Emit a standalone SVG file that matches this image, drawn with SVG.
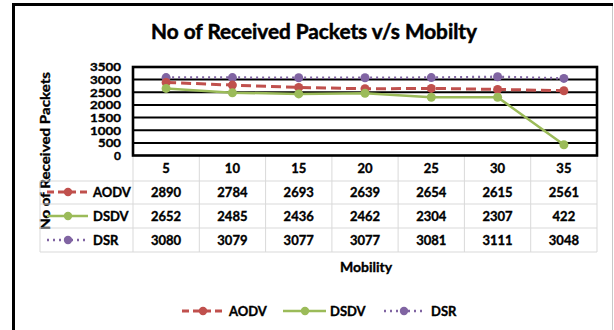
<svg xmlns="http://www.w3.org/2000/svg" width="614" height="330" viewBox="0 0 614 330">
  <style>
    text { font-family: Lato, "Liberation Sans", Arial, sans-serif; font-weight: bold; fill: #000; stroke: #000; stroke-width: 0.35; }
    .title { font-size: 20px; stroke-width: 0.5; }
    .ytick { font-size: 12px; text-anchor: end; }
    .cell { font-size: 13px; text-anchor: middle; }
    .key { font-size: 13px; }
    .axis { font-size: 14px; text-anchor: middle; }
    .grid { stroke: #000; stroke-width: 2; }
    .tbl { stroke: #d9d9d9; stroke-width: 1; fill: none; }
    .aodv { stroke: #c0504d; stroke-width: 3; fill: none; stroke-dasharray: 10 5; }
    .dsdv { stroke: #9bbb59; stroke-width: 2.5; fill: none; }
    .dsr { stroke: #8064a2; stroke-width: 2.5; fill: none; stroke-dasharray: 2 4; }
    .m-aodv { fill: #c0504d; }
    .m-dsdv { fill: #9bbb59; }
    .m-dsr { fill: #8064a2; }
  </style>

  <!-- page frame -->
  <rect x="0" y="0" width="614" height="330" fill="#fff"/>
  <line x1="612.5" y1="6" x2="612.5" y2="330" stroke="#c8c8c8" stroke-width="1"/>
  <line x1="12" y1="4.5" x2="613" y2="4.5" stroke="#000" stroke-width="3"/>
  <line x1="13.5" y1="3" x2="13.5" y2="330" stroke="#000" stroke-width="3"/>

  <!-- title -->
  <text class="title" x="314" y="39" text-anchor="middle" textLength="326" lengthAdjust="spacingAndGlyphs">No of Received Packets v/s Mobilty</text>

  <!-- y-axis title -->
  <text class="axis" transform="translate(50 151) rotate(-90)" textLength="158" lengthAdjust="spacingAndGlyphs">No of Received Packets</text>

  <!-- y-axis tick labels -->
  <g id="y-ticks">
    <text class="ytick" x="121" y="71.3" textLength="31" lengthAdjust="spacingAndGlyphs">3500</text>
    <text class="ytick" x="121" y="83.9" textLength="31" lengthAdjust="spacingAndGlyphs">3000</text>
    <text class="ytick" x="121" y="96.6" textLength="31" lengthAdjust="spacingAndGlyphs">2500</text>
    <text class="ytick" x="121" y="109.2" textLength="31" lengthAdjust="spacingAndGlyphs">2000</text>
    <text class="ytick" x="121" y="121.9" textLength="31" lengthAdjust="spacingAndGlyphs">1500</text>
    <text class="ytick" x="121" y="134.5" textLength="31" lengthAdjust="spacingAndGlyphs">1000</text>
    <text class="ytick" x="121" y="147.2" textLength="23" lengthAdjust="spacingAndGlyphs">500</text>
    <text class="ytick" x="121" y="159.8">0</text>
  </g>

  <!-- data table grid -->
  <g id="data-table">
    <line class="tbl" x1="40" y1="181" x2="597" y2="181"/>
    <line class="tbl" x1="40" y1="204" x2="597" y2="204"/>
    <line class="tbl" x1="40" y1="228" x2="597" y2="228"/>
    <line class="tbl" x1="40" y1="252" x2="597" y2="252"/>
    <line class="tbl" x1="40" y1="181" x2="40" y2="252"/>
    <line class="tbl" x1="133" y1="155" x2="133" y2="252"/>
    <line class="tbl" x1="199.3" y1="155" x2="199.3" y2="252"/>
    <line class="tbl" x1="265.6" y1="155" x2="265.6" y2="252"/>
    <line class="tbl" x1="331.9" y1="155" x2="331.9" y2="252"/>
    <line class="tbl" x1="398.1" y1="155" x2="398.1" y2="252"/>
    <line class="tbl" x1="464.4" y1="155" x2="464.4" y2="252"/>
    <line class="tbl" x1="530.7" y1="155" x2="530.7" y2="252"/>
    <line class="tbl" x1="597" y1="155" x2="597" y2="252"/>

    <!-- header row: mobility values -->
    <text class="cell" x="166.1" y="173">5</text>
    <text class="cell" x="232.4" y="173">10</text>
    <text class="cell" x="298.7" y="173">15</text>
    <text class="cell" x="365" y="173">20</text>
    <text class="cell" x="431.3" y="173">25</text>
    <text class="cell" x="497.6" y="173">30</text>
    <text class="cell" x="563.9" y="173">35</text>

    <!-- AODV row -->
    <line class="aodv" x1="47" y1="192" x2="88" y2="192" style="stroke-dasharray:7 4"/>
    <circle class="m-aodv" cx="68" cy="192" r="4.2"/>
    <text class="key" x="93" y="197">AODV</text>
    <text class="cell" x="166.1" y="197">2890</text>
    <text class="cell" x="232.4" y="197">2784</text>
    <text class="cell" x="298.7" y="197">2693</text>
    <text class="cell" x="365" y="197">2639</text>
    <text class="cell" x="431.3" y="197">2654</text>
    <text class="cell" x="497.6" y="197">2615</text>
    <text class="cell" x="563.9" y="197">2561</text>

    <!-- DSDV row -->
    <line class="dsdv" x1="47" y1="216" x2="88" y2="216"/>
    <circle class="m-dsdv" cx="68" cy="216" r="4.2"/>
    <text class="key" x="93" y="221">DSDV</text>
    <text class="cell" x="166.1" y="221">2652</text>
    <text class="cell" x="232.4" y="221">2485</text>
    <text class="cell" x="298.7" y="221">2436</text>
    <text class="cell" x="365" y="221">2462</text>
    <text class="cell" x="431.3" y="221">2304</text>
    <text class="cell" x="497.6" y="221">2307</text>
    <text class="cell" x="563.9" y="221">422</text>

    <!-- DSR row -->
    <line class="dsr" x1="47" y1="240" x2="88" y2="240"/>
    <circle class="m-dsr" cx="68" cy="240" r="4.2"/>
    <text class="key" x="93" y="245">DSR</text>
    <text class="cell" x="166.1" y="245">3080</text>
    <text class="cell" x="232.4" y="245">3079</text>
    <text class="cell" x="298.7" y="245">3077</text>
    <text class="cell" x="365" y="245">3077</text>
    <text class="cell" x="431.3" y="245">3081</text>
    <text class="cell" x="497.6" y="245">3111</text>
    <text class="cell" x="563.9" y="245">3048</text>
  </g>

  <!-- plot area with gridlines -->
  <g id="plot-area">
    <line class="grid" x1="133" y1="79.6" x2="597" y2="79.6"/>
    <line class="grid" x1="133" y1="92.3" x2="597" y2="92.3"/>
    <line class="grid" x1="133" y1="104.9" x2="597" y2="104.9"/>
    <line class="grid" x1="133" y1="117.6" x2="597" y2="117.6"/>
    <line class="grid" x1="133" y1="130.2" x2="597" y2="130.2"/>
    <line class="grid" x1="133" y1="142.9" x2="597" y2="142.9"/>
    <rect x="133" y="67" width="464" height="88.5" fill="none" stroke="#000" stroke-width="2.6"/>
  </g>

  <!-- data series -->
  <g id="series-dsr">
    <polyline class="dsr" points="166.1,77.6 232.4,77.6 298.7,77.7 365,77.7 431.3,77.6 497.6,76.8 563.9,78.4"/>
    <circle class="m-dsr" cx="166.1" cy="77.6" r="4.5"/>
    <circle class="m-dsr" cx="232.4" cy="77.6" r="4.5"/>
    <circle class="m-dsr" cx="298.7" cy="77.7" r="4.5"/>
    <circle class="m-dsr" cx="365" cy="77.7" r="4.5"/>
    <circle class="m-dsr" cx="431.3" cy="77.6" r="4.5"/>
    <circle class="m-dsr" cx="497.6" cy="76.8" r="4.5"/>
    <circle class="m-dsr" cx="563.9" cy="78.4" r="4.5"/>
  </g>
  <g id="series-aodv">
    <polyline class="aodv" points="166.1,82.4 232.4,85.1 298.7,87.4 365,88.8 431.3,88.4 497.6,89.4 563.9,90.7"/>
    <circle class="m-aodv" cx="166.1" cy="82.4" r="4.5"/>
    <circle class="m-aodv" cx="232.4" cy="85.1" r="4.5"/>
    <circle class="m-aodv" cx="298.7" cy="87.4" r="4.5"/>
    <circle class="m-aodv" cx="365" cy="88.8" r="4.5"/>
    <circle class="m-aodv" cx="431.3" cy="88.4" r="4.5"/>
    <circle class="m-aodv" cx="497.6" cy="89.4" r="4.5"/>
    <circle class="m-aodv" cx="563.9" cy="90.7" r="4.5"/>
  </g>
  <g id="series-dsdv">
    <polyline class="dsdv" points="166.1,88.4 232.4,92.7 298.7,93.9 365,93.3 431.3,97.2 497.6,97.2 563.9,144.8"/>
    <circle class="m-dsdv" cx="166.1" cy="88.4" r="4.5"/>
    <circle class="m-dsdv" cx="232.4" cy="92.7" r="4.5"/>
    <circle class="m-dsdv" cx="298.7" cy="93.9" r="4.5"/>
    <circle class="m-dsdv" cx="365" cy="93.3" r="4.5"/>
    <circle class="m-dsdv" cx="431.3" cy="97.2" r="4.5"/>
    <circle class="m-dsdv" cx="497.6" cy="97.2" r="4.5"/>
    <circle class="m-dsdv" cx="563.9" cy="144.8" r="4.5"/>
  </g>

  <!-- x-axis title -->
  <text class="axis" x="366" y="272">Mobility</text>

  <!-- legend -->
  <g id="legend">
    <line class="aodv" x1="182" y1="311" x2="225" y2="311" style="stroke-dasharray:7 4"/>
    <circle class="m-aodv" cx="203" cy="311" r="4.2"/>
    <text class="key" x="229" y="316">AODV</text>
    <line class="dsdv" x1="283" y1="311" x2="326" y2="311"/>
    <circle class="m-dsdv" cx="305" cy="311" r="4.2"/>
    <text class="key" x="330" y="316">DSDV</text>
    <line class="dsr" x1="384" y1="311" x2="424" y2="311"/>
    <circle class="m-dsr" cx="404" cy="311" r="4.2"/>
    <text class="key" x="431" y="316">DSR</text>
  </g>
</svg>
